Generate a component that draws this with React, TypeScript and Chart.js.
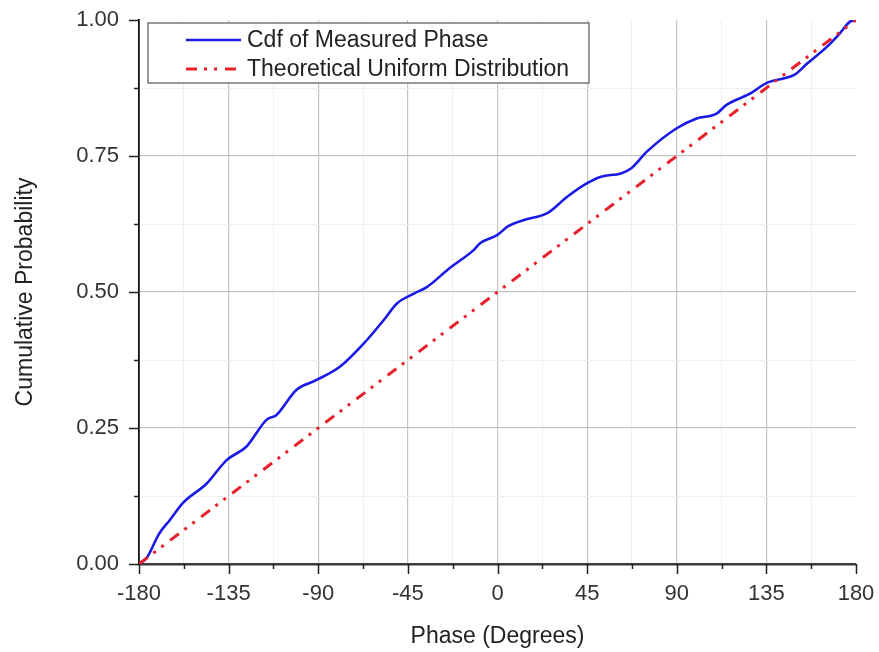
import React, { useEffect, useRef } from "react";
import { Chart, registerables } from "chart.js";
Chart.register(...registerables);

// Measured phase CDF (degrees, cumulative probability)
const phaseDeg = [-180, -176, -170, -164.5, -158, -146, -136, -126, -116, -111, -101, -91, -79, -67, -57, -50.5, -42, -35.5, -24, -12, -8.6, 0, 5, 13, 25, 35, 45, 52, 62, 67, 75, 90, 100, 110, 115, 127, 135, 144, 149, 155.5, 165.5, 172, 177, 180];
const cdfMeasured = [0, 0.012, 0.055, 0.081, 0.112, 0.148, 0.191, 0.216, 0.265, 0.274, 0.32, 0.338, 0.363, 0.406, 0.449, 0.479, 0.497, 0.509, 0.544, 0.577, 0.59, 0.605, 0.62, 0.632, 0.645, 0.675, 0.7, 0.712, 0.718, 0.727, 0.758, 0.801, 0.819, 0.828, 0.844, 0.865, 0.884, 0.893, 0.899, 0.92, 0.951, 0.976, 0.997, 1.0];

// Theoretical uniform distribution
const uniformPhase = [-180, 180];
const uniformCdf = [0, 1];

const seriesLabels = ["Cdf of Measured Phase", "Theoretical Uniform Distribution"];
const xTickLabels = ["-180", "-135", "-90", "-45", "0", "45", "90", "135", "180"];
const yTickLabels = ["0.00", "0.25", "0.50", "0.75", "1.00"];

const FONT = "'Liberation Sans', Arial, sans-serif";
const isMajorX = (v: number) => Math.abs(v / 45 - Math.round(v / 45)) < 1e-6;
const isMajorY = (v: number) => Math.abs(v / 0.25 - Math.round(v / 0.25)) < 1e-6;

const tickPlugin = {
  id: "customTicks",
  afterDraw(chart: any) {
    const ctx = chart.ctx;
    const xs = chart.scales.x;
    const ys = chart.scales.y;
    const { left, bottom } = chart.chartArea;
    ctx.save();
    ctx.strokeStyle = "#222";
    ctx.lineWidth = 1.5;
    xs.ticks.forEach((t: any) => {
      const px = Math.round(xs.getPixelForValue(t.value)) + 0.5;
      const len = isMajorX(t.value) ? 10 : 5;
      ctx.beginPath();
      ctx.moveTo(px, bottom);
      ctx.lineTo(px, bottom + len);
      ctx.stroke();
    });
    ys.ticks.forEach((t: any) => {
      const py = Math.round(ys.getPixelForValue(t.value)) + 0.5;
      const len = isMajorY(t.value) ? 10 : 5;
      ctx.beginPath();
      ctx.moveTo(left, py);
      ctx.lineTo(left - len, py);
      ctx.stroke();
    });
    ctx.restore();
  },
};

const legendPlugin = {
  id: "boxLegend",
  afterDraw(chart: any) {
    const ctx = chart.ctx;
    const { left, top } = chart.chartArea;
    const bx = left + 9;
    const by = top + 3;
    const bw = 441;
    const bh = 60;
    ctx.save();
    ctx.fillStyle = "#ffffff";
    ctx.fillRect(bx, by, bw, bh);
    ctx.strokeStyle = "#777";
    ctx.lineWidth = 1.5;
    ctx.strokeRect(bx, by, bw, bh);
    const rows = [by + 17, by + 46];
    chart.data.datasets.forEach((ds: any, i: number) => {
      const y = rows[i];
      ctx.strokeStyle = ds.borderColor;
      ctx.lineWidth = ds.borderWidth;
      ctx.setLineDash(ds.borderDash || []);
      ctx.beginPath();
      ctx.moveTo(bx + 38, y);
      ctx.lineTo(bx + 93, y);
      ctx.stroke();
      ctx.setLineDash([]);
      ctx.fillStyle = "#222";
      ctx.font = `23px ${FONT}`;
      ctx.textBaseline = "middle";
      ctx.textAlign = "left";
      ctx.fillText(ds.label, bx + 99, y + 1);
    });
    ctx.restore();
  },
};

export default function App() {
  const ref = useRef<HTMLCanvasElement | null>(null);
  useEffect(() => {
    if (!ref.current) return;
    const chart = new Chart(ref.current, {
      type: "line",
      data: {
        datasets: [
          {
            label: seriesLabels[0],
            data: phaseDeg.map((x, i) => ({ x, y: cdfMeasured[i] })),
            borderColor: "#1a1ae6",
            borderWidth: 2.6,
            pointRadius: 0,
            cubicInterpolationMode: "monotone",
            fill: false,
            order: 1,
          },
          {
            label: seriesLabels[1],
            data: uniformPhase.map((x, i) => ({ x, y: uniformCdf[i] })),
            borderColor: "#e8202a",
            borderWidth: 3,
            borderDash: [11, 7, 3, 7, 3, 8],
            pointRadius: 0,
            fill: false,
            order: 0,
          },
        ],
      },
      options: {
        animation: false,
        responsive: false,
        devicePixelRatio: 1,
        layout: { padding: { left: 0, right: 23, top: 20, bottom: 0 } },
        plugins: { legend: { display: false }, tooltip: { enabled: false } },
        scales: {
          x: {
            type: "linear",
            min: -180,
            max: 180,
            afterFit: (s: any) => {
              s.height = 88;
              s.paddingLeft = 0;
              s.paddingRight = 0;
              s.paddingTop = 0;
              s.paddingBottom = 0;
            },
            afterBuildTicks: (s: any) => {
              const t = [];
              for (let i = 0; i <= 16; i++) t.push({ value: -180 + i * 22.5 });
              s.ticks = t;
            },
            ticks: {
              autoSkip: false,
              maxRotation: 0,
              padding: 17,
              color: "#333",
              font: { family: FONT, size: 22 },
              callback: (v: any) => {
                const n = Number(v);
                if (!isMajorX(n)) return "";
                const idx = Math.round((n + 180) / 45);
                return xTickLabels[idx];
              },
            },
            grid: {
              drawTicks: false,
              lineWidth: (c: any) => (c.tick && isMajorX(c.tick.value) ? 1.2 : 1),
              color: (c: any) => {
                const v = c.tick ? c.tick.value : 0;
                if (Math.abs(v - 180) < 1e-6 || Math.abs(v + 180) < 1e-6) return "rgba(0,0,0,0)";
                return isMajorX(v) ? "#c4c4c4" : "#efefef";
              },
            },
            border: { display: true, color: "#3a3a3a", width: 2.5 },
            title: {
              display: true,
              text: "Phase (Degrees)",
              color: "#222",
              font: { family: FONT, size: 23 },
              padding: { top: 0, bottom: 2 },
            },
          },
          y: {
            type: "linear",
            min: 0,
            max: 1,
            afterFit: (s: any) => {
              s.width = 139;
              s.paddingLeft = 0;
              s.paddingRight = 0;
              s.paddingTop = 0;
              s.paddingBottom = 0;
            },
            afterBuildTicks: (s: any) => {
              const t = [];
              for (let i = 0; i <= 8; i++) t.push({ value: i * 0.125 });
              s.ticks = t;
            },
            ticks: {
              autoSkip: false,
              padding: 20,
              color: "#333",
              font: { family: FONT, size: 22 },
              callback: (v: any) => {
                const n = Number(v);
                if (!isMajorY(n)) return "";
                return yTickLabels[Math.round(n / 0.25)];
              },
            },
            grid: {
              drawTicks: false,
              lineWidth: (c: any) => (c.tick && isMajorY(c.tick.value) ? 1.2 : 1),
              color: (c: any) => {
                const v = c.tick ? c.tick.value : 0;
                if (Math.abs(v - 1) < 1e-6 || Math.abs(v) < 1e-6) return "rgba(0,0,0,0)";
                return isMajorY(v) ? "#c4c4c4" : "#efefef";
              },
            },
            border: { display: true, color: "#111", width: 1.8 },
            title: {
              display: true,
              text: "Cumulative Probability",
              color: "#222",
              font: { family: FONT, size: 23 },
              padding: { top: 12, bottom: 0 },
            },
          },
        },
      },
      plugins: [tickPlugin, legendPlugin],
    } as any);
    return () => chart.destroy();
  }, []);
  return (
    <div style={{ position: "absolute", left: 0, top: 0, width: 879, height: 652, background: "#fff" }}>
      <canvas ref={ref} width={879} height={652} style={{ width: 879, height: 652 }} />
    </div>
  );
}
